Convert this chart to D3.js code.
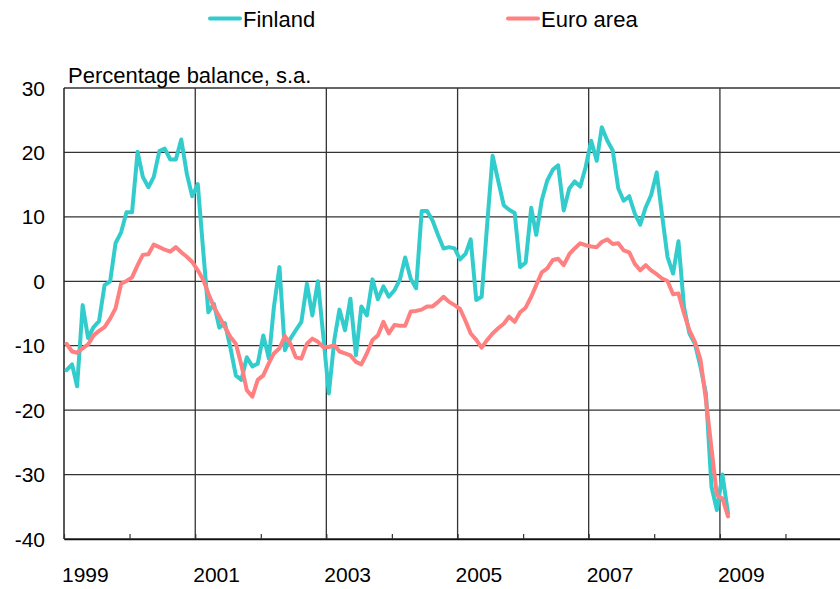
<!DOCTYPE html>
<html>
<head>
<meta charset="utf-8">
<script src="https://cdn.jsdelivr.net/npm/d3@7"></script>
<style>
  html, body { margin: 0; padding: 0; background: #fff; overflow: hidden; }
  svg { display: block; font-family: "Liberation Sans", Arial, sans-serif; }
</style>
</head>
<body>
<svg id="chart" width="840" height="589"></svg>
<script>
// ---- Data (monthly, Jan 1999 – Feb 2009) ----
const startYear = 1999;
const seriesNames = ["Finland", "Euro area"];
const seriesColors = ["#33CCCC", "#FF8080"];
const finland = [
  -13.8, -12.9, -16.3, -3.7, -8.8, -7.1, -6.2, -0.6, 0.0, 5.9, 7.6, 10.7,
  10.7, 20.1, 16.2, 14.6, 16.2, 20.2, 20.6, 18.9, 18.9, 22.0, 16.7, 13.2,
  15.1, 4.5, -4.8, -3.5, -7.2, -6.5, -10.2, -14.6, -15.3, -11.8, -13.2, -12.8,
  -8.4, -12.0, -4.0, 2.2, -10.7, -8.9, -7.6, -6.3, -0.4, -5.3, 0.0, -8.5,
  -17.4, -9.0, -4.4, -7.6, -2.7, -11.5, -3.9, -5.3, 0.3, -2.8, -0.8, -2.4,
  -1.4, 0.3, 3.7, 0.4, -1.1, 10.9, 10.9, 9.4, 7.1, 5.1, 5.3, 5.1,
  3.4, 4.3, 6.5, -2.9, -2.4, 8.9, 19.5, 15.6, 11.8, 11.1, 10.6, 2.2,
  2.9, 11.4, 7.2, 12.6, 15.6, 17.3, 18.0, 11.0, 14.4, 15.5, 14.7, 17.7,
  21.8, 18.7, 23.9, 21.8, 20.3, 14.4, 12.5, 13.2, 10.5, 8.8, 11.5, 13.4,
  16.9, 10.0, 3.8, 1.2, 6.2, -4.0, -8.1, -9.7, -13.3, -17.4, -31.9, -35.5,
  -30.0, -36.0
];
const euroArea = [
  -9.7, -10.9, -11.1, -10.4, -9.8, -8.4, -7.7, -7.1, -5.8, -4.2, -0.4, 0.05,
  0.6, 2.5, 4.1, 4.2, 5.7, 5.3, 4.9, 4.6, 5.3, 4.5, 3.8, 3.0,
  1.7, 0.2, -1.9, -4.0, -5.5, -7.1, -8.6, -9.7, -13.0, -16.9, -17.9, -15.3,
  -14.6, -12.7, -11.2, -10.4, -8.5, -9.7, -11.8, -12.0, -9.7, -8.9, -9.4, -10.2,
  -10.2, -9.9, -10.9, -11.2, -11.5, -12.5, -12.9, -11.2, -9.1, -8.4, -6.3, -8.1,
  -6.8, -6.9, -6.9, -4.7, -4.6, -4.4, -3.9, -3.9, -3.2, -2.4, -3.2, -3.7,
  -4.3, -6.2, -8.1, -9.1, -10.3, -9.1, -8.1, -7.3, -6.6, -5.5, -6.3, -4.8,
  -4.1, -2.4, -0.6, 1.4, 2.0, 3.3, 3.5, 2.5, 4.2, 5.1, 5.9, 5.6,
  5.4, 5.3, 6.1, 6.5, 5.8, 5.9, 4.8, 4.5, 2.7, 1.7, 2.5, 1.7,
  1.1, 0.4, 0.05, -2.0, -1.9, -5.0, -7.6, -9.4, -12.2, -18.4, -25.9, -33.2,
  -33.7, -36.5
];
const yTicks = [30, 20, 10, 0, -10, -20, -30, -40];
const xLabelYears = [1999, 2001, 2003, 2005, 2007, 2009];
const gridYears = [2001, 2003, 2005, 2007, 2009, 2011];
const yTitle = "Percentage balance, s.a.";

// month dates (mid-month)
const months = finland.map((_, i) => new Date(startYear, i, 15));

// ---- Layout ----
const svg = d3.select("#chart");
const mLeft = 64, mRight = 851, mTop = 88, mBottom = 539;

const x = d3.scaleTime()
  .domain([new Date(1999, 0, 1), new Date(2011, 0, 1)])
  .range([mLeft, mRight]);
const y = d3.scaleLinear().domain([-40, 30]).range([mBottom, mTop]);

const plot = svg.append("g");

// horizontal gridlines
plot.selectAll("line.hg").data(yTicks).enter().append("line")
  .attr("x1", mLeft).attr("x2", mRight)
  .attr("y1", d => y(d)).attr("y2", d => y(d))
  .attr("stroke", "#333").attr("stroke-width", 1.3);

// vertical gridlines
plot.selectAll("line.vg").data(gridYears).enter().append("line")
  .attr("x1", d => x(new Date(d, 0, 1))).attr("x2", d => x(new Date(d, 0, 1)))
  .attr("y1", mTop).attr("y2", mBottom)
  .attr("stroke", "#333").attr("stroke-width", 1.3);

// left axis line
plot.append("line")
  .attr("x1", mLeft).attr("x2", mLeft).attr("y1", mTop).attr("y2", mBottom)
  .attr("stroke", "#222").attr("stroke-width", 1.5);

// bottom axis (year ticks, inward)
const xAxis = d3.axisBottom(x)
  .ticks(d3.timeYear.every(1))
  .tickSizeInner(-5).tickSizeOuter(0)
  .tickFormat("");
const gx = svg.append("g").attr("transform", `translate(0,${mBottom})`).call(xAxis);
gx.select(".domain").attr("stroke", "#111").attr("stroke-width", 1.5);
gx.selectAll(".tick line").attr("stroke", "#333").attr("stroke-width", 1.2);

// x labels (left-aligned at tick)
svg.selectAll("text.xl").data(xLabelYears).enter().append("text")
  .attr("x", d => x(new Date(d, 0, 1)) - 2)
  .attr("y", 582)
  .attr("font-size", 21)
  .attr("fill", "#000")
  .text(d => d);

// y labels
svg.selectAll("text.yl").data(yTicks).enter().append("text")
  .attr("x", 45)
  .attr("y", d => y(d) + 7.5)
  .attr("text-anchor", "end")
  .attr("font-size", 21)
  .attr("fill", "#000")
  .text(d => d);

// y title
svg.append("text")
  .attr("x", 68).attr("y", 83)
  .attr("font-size", 22)
  .attr("fill", "#000")
  .text(yTitle);

// lines
const line = d3.line()
  .x((d, i) => x(months[i]))
  .y(d => y(d));

[finland, euroArea].forEach((s, k) => {
  svg.append("path")
    .datum(s)
    .attr("d", line)
    .attr("fill", "none")
    .attr("stroke", seriesColors[k])
    .attr("stroke-width", 4)
    .attr("stroke-linejoin", "round")
    .attr("stroke-linecap", "round");
});

// legend
const legendX = [210, 508];
seriesNames.forEach((name, k) => {
  const g = svg.append("g");
  g.append("line")
    .attr("x1", legendX[k]).attr("x2", legendX[k] + 30)
    .attr("y1", 18.5).attr("y2", 18.5)
    .attr("stroke", seriesColors[k]).attr("stroke-width", 4)
    .attr("stroke-linecap", "round");
  g.append("text")
    .attr("x", legendX[k] + 33).attr("y", 27)
    .attr("font-size", 22)
    .attr("fill", "#000")
    .text(name);
});
</script>
</body>
</html>
